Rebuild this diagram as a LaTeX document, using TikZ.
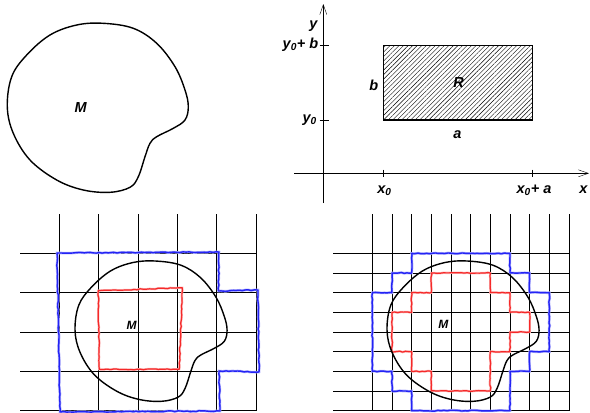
\documentclass[tikz,border=0pt]{standalone}
\usepackage{fontspec}
\setmainfont{Liberation Sans}
\usetikzlibrary{arrows.meta,patterns.meta,decorations.pathmorphing}
\definecolor{penblue}{RGB}{35,35,245}
\definecolor{penred}{RGB}{245,40,40}

\begin{document}
\begin{tikzpicture}[
        x=1pt, y=-1pt,
        lbl/.style={font=\fontsize{14.5}{16}\selectfont\bfseries\itshape, inner sep=0pt},
        smalllbl/.style={font=\fontsize{12}{14}\selectfont\bfseries\itshape, inner sep=0pt},
        axisline/.style={draw, line width=0.8pt, -{Straight Barb[length=10pt,width=7pt,line width=0.4pt]}},
        tickmark/.style={draw, line width=0.8pt},
        gridline/.style={draw, line width=0.7pt},
        boundary/.style={draw, line width=1.4pt},
        rectline/.style={draw, line width=1.5pt, pattern={Lines[angle=45,distance=3.2pt,line width=0.4pt]}},
        upperset/.style={draw=penblue, line width=1.4pt, line join=round,
            preaction={draw=penblue!35, line width=2.6pt},
            decorate, decoration={random steps, segment length=3pt, amplitude=0.45pt}},
        lowerset/.style={draw=penred, line width=1.2pt, line join=round,
            preaction={draw=penred!35, line width=2.3pt},
            decorate, decoration={random steps, segment length=3pt, amplitude=0.45pt}},
        pics/blob/.style={code={
            \draw[boundary] plot[smooth cycle, tension=0.6] coordinates {
                (7.3,106.7) (11.7,76.7) (26.7,55) (50,35) (76.7,25) (103.3,23.3)
                (133.3,28.3) (156.7,43.3) (175,66.7) (185,90) (188.3,106.7)
                (185,120) (173.3,128.3) (156.7,136.7) (150,143.3) (145,156.7)
                (138.3,176.7) (130,187.3) (110,192.3) (83.3,190) (56.7,180)
                (30,160) (13.3,133.3)};
        }},
    ]
    \useasboundingbox (0,0) rectangle (590,413);
    \pgfmathsetseed{11}

    % the set M
    \pic at (0,0) {blob};
    \node[lbl] (blobM) at (80.7,108) {M};

    % rectangle R in the plane
    \coordinate (xstart) at (294,173.3);
    \coordinate (xend) at (589,173.3);
    \coordinate (ystart) at (323.3,203);
    \coordinate (yend) at (323.3,4);
    \draw[axisline] (xstart) -- (xend);
    \draw[axisline] (ystart) -- (yend);
    \coordinate (R00) at (383.3,120);
    \coordinate (R11) at (532.3,45.7);
    \draw[rectline] (R00) rectangle (R11);
    \draw[tickmark] (319.5,45.7) -- (329.3,45.7);
    \draw[tickmark] (319.5,120) -- (329.3,120);
    \draw[tickmark] (383.3,169.5) -- (383.3,177);
    \draw[tickmark] (532.3,169.5) -- (532.3,177);
    \node[lbl] (ylab) at (313.5,26) {y};
    \node[lbl, anchor=base east] (yb) at (318.5,48.7) {y\textsubscript{0}+ b};
    \node[lbl, anchor=base east] (y0) at (317,122.5) {y\textsubscript{0}};
    \node[lbl, anchor=base] (blab) at (373.8,90.5) {b};
    \node[lbl, anchor=base] (Rlab) at (458.5,87.3) {R};
    \node[lbl, anchor=base] (alab) at (457.5,138.3) {a};
    \node[lbl, anchor=base] (x0) at (384.5,193.3) {x\textsubscript{0}};
    \node[lbl, anchor=base] (xa) at (534,193.3) {x\textsubscript{0}+ a};
    \node[lbl, anchor=base] (xlab) at (583.5,193.3) {x};

    % coarse grid
    \foreach \i in {1,...,6}
        \draw[gridline] ({20+39.33*\i},214) -- ({20+39.33*\i},410.6);
    \foreach \j in {1,...,5}
        \draw[gridline] (20,{214+39.33*\j}) -- (256,{214+39.33*\j});
    \draw[upperset] (57,253) -- (219,252) -- (218.5,291) -- (258,290) -- (259,372)
        -- (219,371) -- (220,411) -- (60,412) -- cycle;
    \draw[lowerset] (98.3,290.7) -- (182.3,287.7) -- (179.3,369.3) -- (99.3,369.3) -- cycle;
    \pic[xscale=0.84, yscale=0.83] at (68.9,241.7) {blob};
    \node[smalllbl] (coarseM) at (131.5,325) {M};

    % fine grid
    \foreach \i in {2,...,12}
        \draw[gridline] ({333+19.665*\i},214) -- ({333+19.665*\i},410.6);
    \foreach \j in {2,...,10}
        \draw[gridline] (333,{214+19.665*\j}) -- (569.3,{214+19.665*\j});
    \begin{scope}[shift={(333,214)}, x=19.665pt, y=-19.665pt]
        \draw[upperset] (4,2) -- (9,2) -- (9,3) -- (10,3) -- (10,4) -- (11,4) -- (11,7)
            -- (10,7) -- (10,8) -- (9,8) -- (9,10) -- (4,10) -- (4,9) -- (3,9)
            -- (3,8) -- (2,8) -- (2,4) -- (3,4) -- (3,3) -- (4,3) -- cycle;
        \draw[lowerset] (5,3) -- (8,3) -- (8,4) -- (9,4) -- (9,5) -- (10,5) -- (10,6)
            -- (9,6) -- (9,7) -- (8,7) -- (8,9) -- (5,9) -- (5,8) -- (4,8)
            -- (4,7) -- (3,7) -- (3,5) -- (4,5) -- (4,4) -- (5,4) -- cycle;
    \end{scope}
    \pic[xscale=0.84, yscale=0.83] at (380.9,241.7) {blob};
    \node[smalllbl] (fineM) at (443.3,324.7) {M};
\end{tikzpicture}
\end{document}
